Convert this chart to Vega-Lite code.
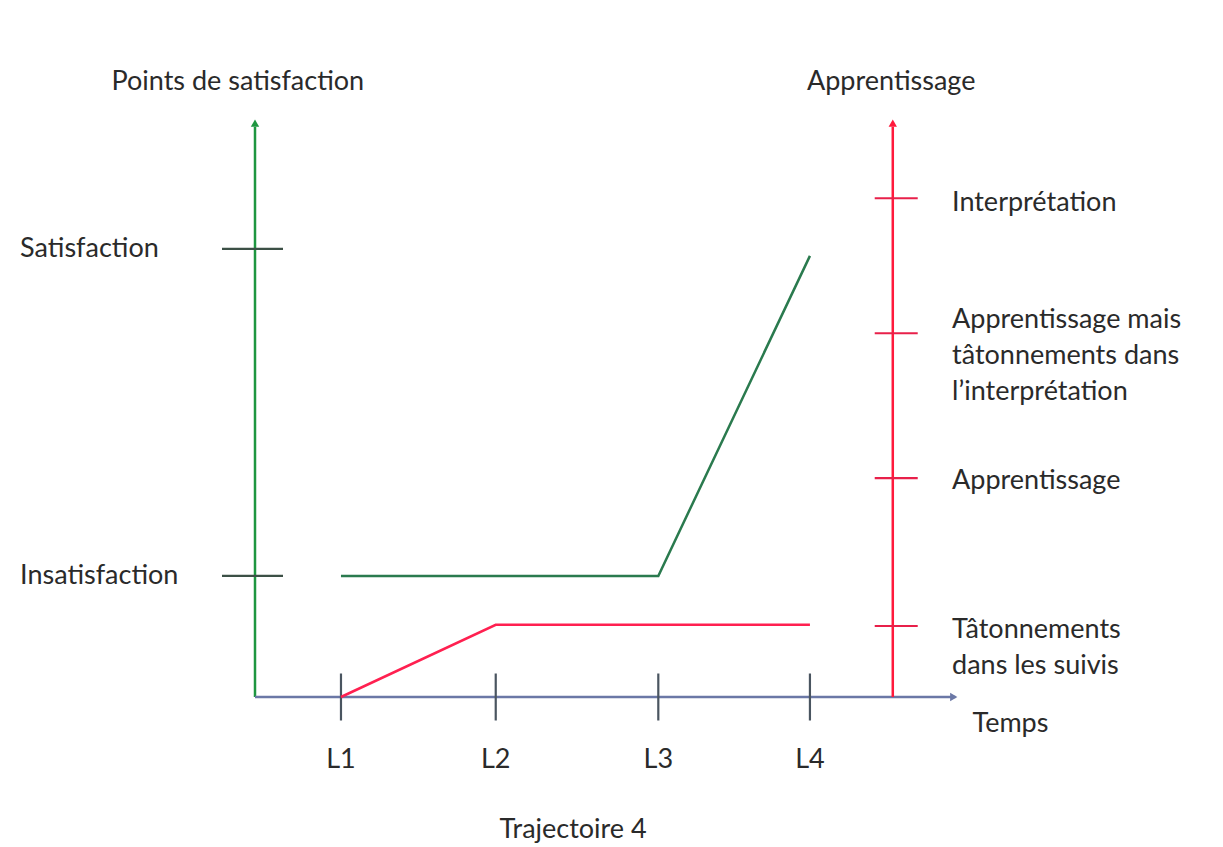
{
  "$schema": "https://vega.github.io/schema/vega-lite/v6.json",
  "width": 705,
  "height": 582,
  "autosize": "none",
  "padding": {"left": 255, "top": 115, "right": 263, "bottom": 150},
  "background": "white",
  "config": {"view": {"stroke": null}, "text": {"font": "Lato", "fontSize": 27, "color": "#2a2a2a"}},
  "datasets": {
    "satisfaction": [
      {"t": 1.0, "v": 20.8},
      {"t": 3.03, "v": 20.8},
      {"t": 4.0, "v": 75.8}
    ],
    "apprentissage": [
      {"t": 1.0, "v": 0},
      {"t": 1.99, "v": 12.4},
      {"t": 4.0, "v": 12.4}
    ],
    "temps": [
      {"t": 1.0, "v": 0, "lv": -10.8, "label": "L1"},
      {"t": 1.99, "v": 0, "lv": -10.8, "label": "L2"},
      {"t": 3.03, "v": 0, "lv": -10.8, "label": "L3"},
      {"t": 4.0, "v": 0, "lv": -10.8, "label": "L4"}
    ],
    "niveauxSatisfaction": [
      {"t": 0.434, "lt": -1.053, "v": 77.0, "label": "Satisfaction"},
      {"t": 0.434, "lt": -1.053, "v": 20.8, "label": "Insatisfaction"}
    ],
    "niveauxApprentissage": [
      {"t": 4.552, "lt": 4.909, "v": 85.7, "lv": 84.9, "label": "Interprétation"},
      {"t": 4.552, "lt": 4.909, "v": 62.5, "lv": 64.8, "label": "Apprentissage mais\ntâtonnements dans\nl’interprétation"},
      {"t": 4.552, "lt": 4.909, "v": 37.6, "lv": 37.1, "label": "Apprentissage"},
      {"t": 4.552, "lt": 4.909, "v": 12.2, "lv": 11.5, "label": "Tâtonnements\ndans les suivis"}
    ]
  },
  "layer": [
    {
      "data": {"values": [{"x": 0.45, "y": 0, "y2": 98}]},
      "mark": {"type": "rule", "color": "#1e9640", "strokeWidth": 2.5},
      "encoding": {
        "x": {"field": "x", "type": "quantitative", "scale": {"domain": [0.45, 4.96], "nice": false, "zero": false}, "axis": null},
        "y": {"field": "y", "type": "quantitative", "scale": {"domain": [0, 100], "nice": false, "zero": false}, "axis": null},
        "y2": {"field": "y2"}
      }
    },
    {
      "data": {"values": [{"x": 0.45, "x2": 4.93, "y": 0}]},
      "mark": {"type": "rule", "color": "#6b78a6", "strokeWidth": 2.5},
      "encoding": {
        "x": {"field": "x", "type": "quantitative", "axis": null},
        "x2": {"field": "x2"},
        "y": {"field": "y", "type": "quantitative", "axis": null}
      }
    },
    {
      "data": {"values": [{"x": 4.53, "y": 0, "y2": 98}]},
      "mark": {"type": "rule", "color": "#ff1a3c", "strokeWidth": 2.5},
      "encoding": {
        "x": {"field": "x", "type": "quantitative", "axis": null},
        "y": {"field": "y", "type": "quantitative", "axis": null},
        "y2": {"field": "y2"}
      }
    },
    {
      "data": {"values": [{"x": 0.45, "y": 98.6}]},
      "mark": {"type": "point", "shape": "triangle-up", "filled": true, "size": 70, "opacity": 1, "color": "#1e9640"},
      "encoding": {
        "x": {"field": "x", "type": "quantitative", "axis": null},
        "y": {"field": "y", "type": "quantitative", "axis": null}
      }
    },
    {
      "data": {"values": [{"x": 4.53, "y": 98.6}]},
      "mark": {"type": "point", "shape": "triangle-up", "filled": true, "size": 70, "opacity": 1, "color": "#ff1a3c"},
      "encoding": {
        "x": {"field": "x", "type": "quantitative", "axis": null},
        "y": {"field": "y", "type": "quantitative", "axis": null}
      }
    },
    {
      "data": {"values": [{"x": 4.92, "y": 0}]},
      "mark": {"type": "point", "shape": "triangle-right", "filled": true, "size": 70, "opacity": 1, "color": "#6b78a6"},
      "encoding": {
        "x": {"field": "x", "type": "quantitative", "axis": null},
        "y": {"field": "y", "type": "quantitative", "axis": null}
      }
    },
    {
      "data": {"name": "niveauxSatisfaction"},
      "mark": {"type": "tick", "orient": "horizontal", "color": "#3c5046", "thickness": 2.2, "size": 61, "opacity": 1},
      "encoding": {
        "x": {"field": "t", "type": "quantitative", "axis": null},
        "y": {"field": "v", "type": "quantitative", "axis": null}
      }
    },
    {
      "data": {"name": "niveauxApprentissage"},
      "mark": {"type": "tick", "orient": "horizontal", "color": "#e8204a", "thickness": 2.2, "size": 43, "opacity": 1},
      "encoding": {
        "x": {"field": "t", "type": "quantitative", "axis": null},
        "y": {"field": "v", "type": "quantitative", "axis": null}
      }
    },
    {
      "data": {"name": "temps"},
      "mark": {"type": "tick", "orient": "vertical", "color": "#4a5560", "thickness": 2.2, "size": 47, "opacity": 1},
      "encoding": {
        "x": {"field": "t", "type": "quantitative", "axis": null},
        "y": {"field": "v", "type": "quantitative", "axis": null}
      }
    },
    {
      "data": {"name": "satisfaction"},
      "mark": {"type": "line", "color": "#2a7a4e", "strokeWidth": 2.5},
      "encoding": {
        "x": {"field": "t", "type": "quantitative", "axis": null},
        "y": {"field": "v", "type": "quantitative", "axis": null}
      }
    },
    {
      "data": {"name": "apprentissage"},
      "mark": {"type": "line", "color": "#ff2050", "strokeWidth": 2.5},
      "encoding": {
        "x": {"field": "t", "type": "quantitative", "axis": null},
        "y": {"field": "v", "type": "quantitative", "axis": null}
      }
    },
    {
      "data": {"name": "temps"},
      "mark": {"type": "text", "align": "center", "baseline": "middle"},
      "encoding": {
        "x": {"field": "t", "type": "quantitative", "axis": null},
        "y": {"field": "lv", "type": "quantitative", "axis": null},
        "text": {"field": "label", "type": "nominal"}
      }
    },
    {
      "data": {"name": "niveauxSatisfaction"},
      "mark": {"type": "text", "align": "left", "baseline": "middle"},
      "encoding": {
        "x": {"field": "lt", "type": "quantitative", "axis": null},
        "y": {"field": "v", "type": "quantitative", "axis": null},
        "text": {"field": "label", "type": "nominal"}
      }
    },
    {
      "data": {"name": "niveauxApprentissage"},
      "mark": {"type": "text", "align": "left", "baseline": "middle", "lineBreak": "\n", "lineHeight": 36},
      "encoding": {
        "x": {"field": "lt", "type": "quantitative", "axis": null},
        "y": {"field": "lv", "type": "quantitative", "axis": null},
        "text": {"field": "label", "type": "nominal"}
      }
    },
    {
      "data": {"values": [
        {"x": 0.34, "y": 105.7, "label": "Points de satisfaction"},
        {"x": 4.52, "y": 105.7, "label": "Apprentissage"},
        {"x": 2.485, "y": -22.9, "label": "Trajectoire 4"}
      ]},
      "mark": {"type": "text", "align": "center", "baseline": "middle"},
      "encoding": {
        "x": {"field": "x", "type": "quantitative", "axis": null},
        "y": {"field": "y", "type": "quantitative", "axis": null},
        "text": {"field": "label", "type": "nominal"}
      }
    },
    {
      "data": {"values": [{"x": 5.04, "y": -4.6, "label": "Temps"}]},
      "mark": {"type": "text", "align": "left", "baseline": "middle"},
      "encoding": {
        "x": {"field": "x", "type": "quantitative", "axis": null},
        "y": {"field": "y", "type": "quantitative", "axis": null},
        "text": {"field": "label", "type": "nominal"}
      }
    }
  ]
}
